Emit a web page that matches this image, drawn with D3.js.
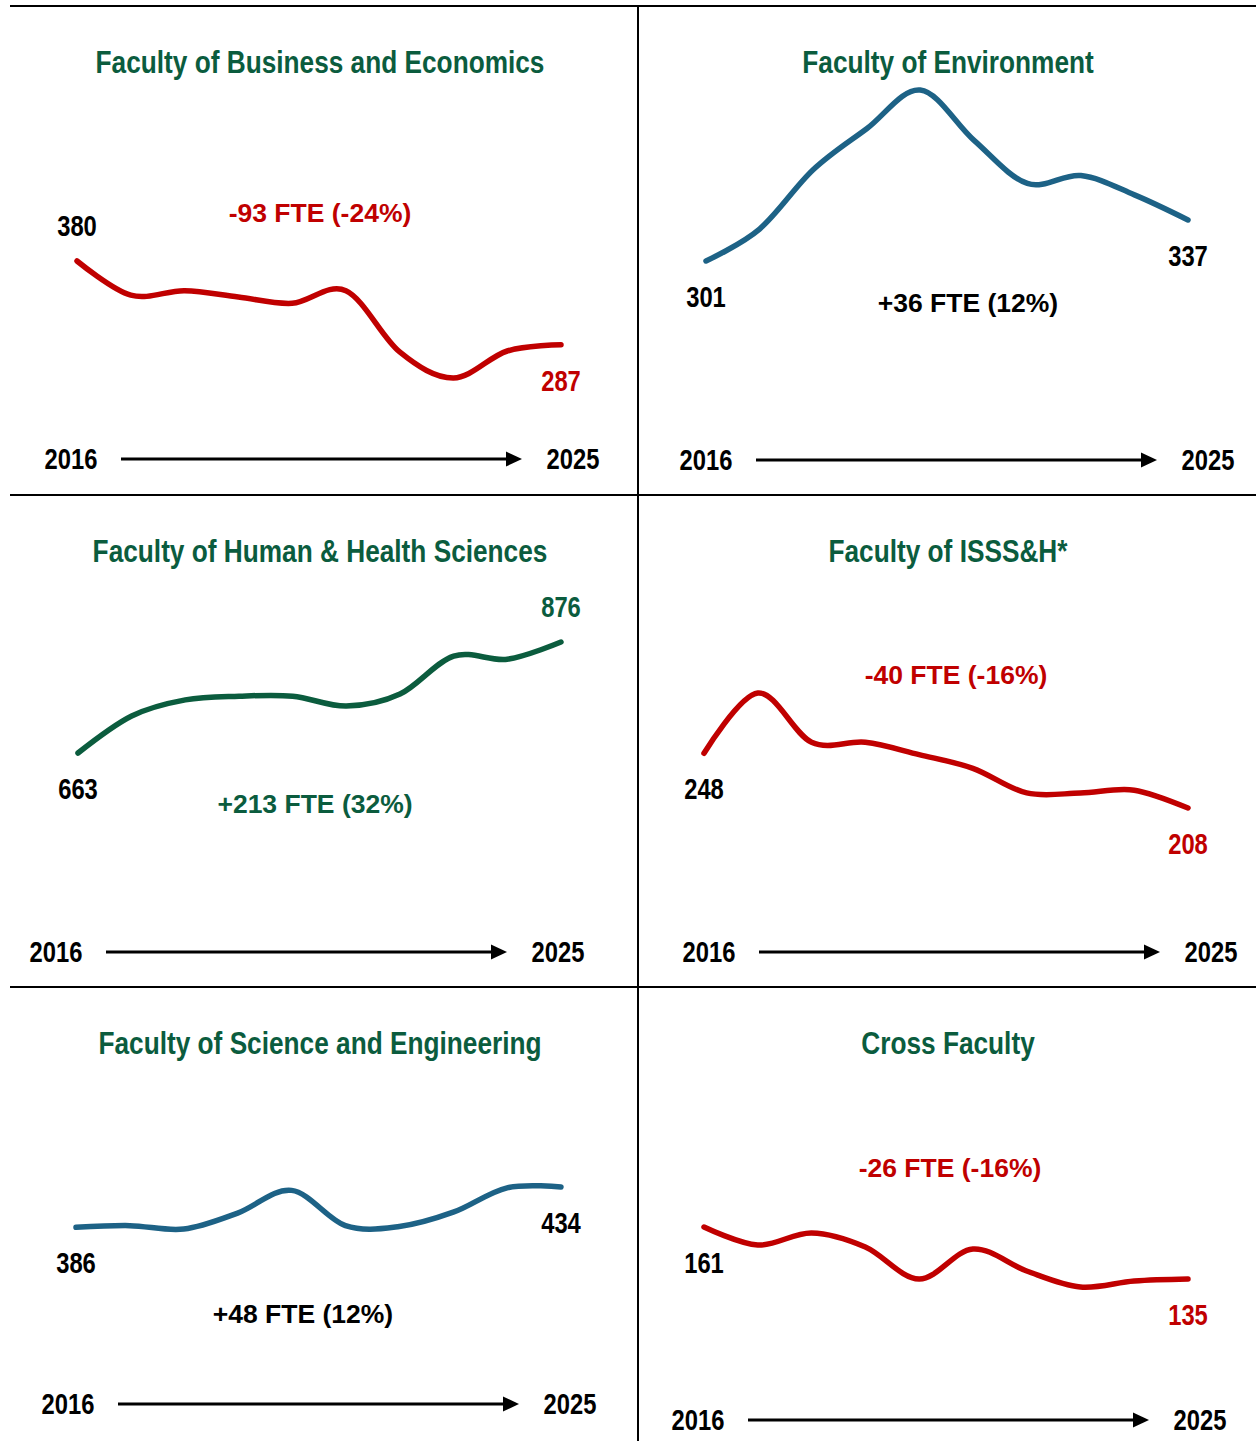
<!DOCTYPE html>
<html>
<head>
<meta charset="utf-8">
<script src="https://cdn.jsdelivr.net/npm/d3@7"></script>
<style>
  body { margin: 0; background: #fff; }
</style>
</head>
<body>
<svg id="chart"></svg>
<script>
// FTE per faculty, 2016 -> 2025
const years = [2016, 2017, 2018, 2019, 2020, 2021, 2022, 2023, 2024, 2025];
const titles = [
  "Faculty of Business and Economics",
  "Faculty of Environment",
  "Faculty of Human & Health Sciences",
  "Faculty of ISSS&H*",
  "Faculty of Science and Engineering",
  "Cross Faculty"
];
const fteBusiness    = [380, 342, 347, 340, 333, 347, 279, 250, 280, 287];
const fteEnvironment = [301, 329, 381, 417, 451, 407, 369, 376, 359, 337];
const fteHealth      = [663, 734, 765, 772, 772, 753, 776, 849, 843, 876];
const fteIsssh       = [248, 292, 256, 256, 247, 237, 219, 219, 221, 208];
const fteScience     = [386, 388, 384, 403, 430, 388, 387, 404, 433, 434];
const fteCross       = [161, 152, 158, 151, 135, 150, 139, 131, 134, 135];

const RED = "#c00000", GREEN = "#0b5c3e", BLUE = "#1d6286", BLACK = "#000";
const NARROW = "'Liberation Sans Narrow', 'Arial Narrow', sans-serif";
const WIDE = "'Liberation Sans', Arial, sans-serif";

const width = 1256, height = 1441;
const colX = [10, 638], rowY = [6, 495, 987];

// layout of each small panel (panel-relative pixels)
const panels = [
  { values: fteBusiness, col: 0, row: 0, line: RED, note: RED, endColor: RED,
    xr: [67, 551], yr: [372, 255], startAbove: true, endAbove: false, notePos: [310, 216], arrow: [111, 453] },
  { values: fteEnvironment, col: 1, row: 0, line: BLUE, note: BLACK, endColor: BLACK,
    xr: [68, 550], yr: [255, 84], startAbove: false, endAbove: false, notePos: [330, 306], arrow: [118, 454] },
  { values: fteHealth, col: 0, row: 1, line: GREEN, note: GREEN, endColor: GREEN,
    xr: [68, 551], yr: [258, 147], startAbove: false, endAbove: true, notePos: [305, 318], arrow: [96, 457] },
  { values: fteIsssh, col: 1, row: 1, line: RED, note: RED, endColor: RED,
    xr: [66, 550], yr: [313, 198], startAbove: false, endAbove: false, notePos: [318, 189], arrow: [121, 457] },
  { values: fteScience, col: 0, row: 2, line: BLUE, note: BLACK, endColor: BLACK,
    xr: [66, 551], yr: [242, 200], startAbove: false, endAbove: false, notePos: [293, 336], arrow: [108, 417] },
  { values: fteCross, col: 1, row: 2, line: RED, note: RED, endColor: RED,
    xr: [66, 550], yr: [300, 240], startAbove: false, endAbove: false, notePos: [312, 190], arrow: [110, 433] }
];

const svg = d3.select("#chart")
  .attr("width", width)
  .attr("height", height)
  .style("display", "block");

// check the narrow font really exists, otherwise squeeze the regular one
const probe = svg.append("text").attr("font-weight", "bold").attr("font-size", 28)
  .attr("font-family", NARROW).text("2016 Faculty");
const wNarrow = probe.node().getComputedTextLength();
probe.attr("font-family", WIDE);
const wWide = probe.node().getComputedTextLength();
probe.remove();
const squeeze = wNarrow / wWide > 0.9 ? 0.82 : 1;

function narrowText(g, x, y, txt, size, color) {
  return g.append("text")
    .attr("transform", `translate(${x},${y}) scale(${squeeze},1)`)
    .attr("text-anchor", "middle")
    .attr("font-family", NARROW)
    .attr("font-weight", "bold")
    .attr("font-size", size)
    .attr("fill", color)
    .text(txt);
}

// grid lines
const grid = svg.append("g").attr("stroke", "#000").attr("stroke-width", 2);
rowY.forEach(y => grid.append("line").attr("x1", 10).attr("x2", width).attr("y1", y).attr("y2", y));
grid.append("line").attr("x1", colX[1]).attr("x2", colX[1]).attr("y1", rowY[0]).attr("y2", height);

panels.forEach((p, i) => {
  const g = svg.append("g").attr("transform", `translate(${colX[p.col]},${rowY[p.row]})`);

  const x = d3.scaleLinear().domain([years[0], years[years.length - 1]]).range(p.xr);
  const y = d3.scaleLinear().domain(d3.extent(p.values)).range(p.yr);

  // title
  narrowText(g, 310, 67, titles[i], 32, GREEN);

  // smoothed line
  const line = d3.line()
    .x((d, j) => x(years[j]))
    .y(d => y(d))
    .curve(d3.curveCardinal.tension(0));

  g.append("path")
    .datum(p.values)
    .attr("d", line)
    .attr("fill", "none")
    .attr("stroke", p.line)
    .attr("stroke-width", 5.5)
    .attr("stroke-linecap", "round")
    .attr("stroke-linejoin", "round");

  // start / end values
  const first = p.values[0], last = p.values[p.values.length - 1];
  narrowText(g, x(years[0]), y(first) + (p.startAbove ? -25 : 46), first, 29, BLACK);
  narrowText(g, x(years[years.length - 1]), y(last) + (p.endAbove ? -25 : 46), last, 29, p.endColor);

  // change note
  const diff = last - first;
  const pct = Math.round(diff / first * 100);
  const note = (diff > 0 ? "+" : "") + diff + " FTE (" + pct + "%)";
  g.append("text")
    .attr("x", p.notePos[0])
    .attr("y", p.notePos[1])
    .attr("text-anchor", "middle")
    .attr("font-family", WIDE)
    .attr("font-weight", "bold")
    .attr("font-size", 26.5)
    .attr("fill", p.note)
    .text(note);

  // time arrow
  const [ax, ay] = p.arrow;
  const len = 401;
  g.append("line")
    .attr("x1", ax).attr("x2", ax + len - 12)
    .attr("y1", ay).attr("y2", ay)
    .attr("stroke", "#000").attr("stroke-width", 3);
  g.append("path")
    .attr("d", `M${ax + len - 16},${ay - 7.5}L${ax + len},${ay}L${ax + len - 16},${ay + 7.5}Z`)
    .attr("fill", "#000");
  narrowText(g, ax - 50, ay + 10, years[0], 29, BLACK);
  narrowText(g, ax + len + 51, ay + 10, years[years.length - 1], 29, BLACK);
});
</script>
</body>
</html>
